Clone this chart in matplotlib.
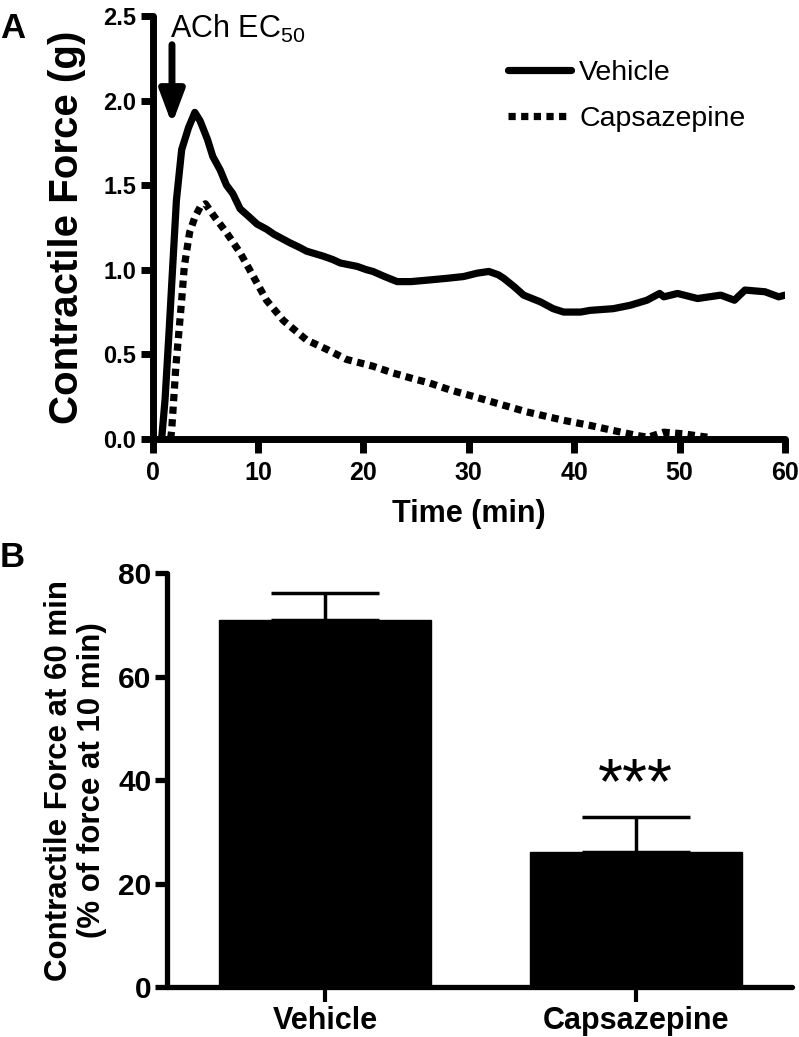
import matplotlib
matplotlib.use("Agg")
import matplotlib.pyplot as plt
import numpy as np

plt.rcParams['font.family'] = ['Liberation Sans', 'DejaVu Sans']
plt.rcParams['mathtext.fontset'] = 'custom'
plt.rcParams['mathtext.rm'] = 'Liberation Sans'

# ---- Panel A data: time course ----
vehicle_t = [0.85, 1.17, 1.55, 1.9, 2.25, 2.75, 3.4, 4.0, 4.5, 5.2, 5.7, 6.4, 7.0, 7.6, 8.3,
             9.2, 9.9, 10.8, 11.5, 13.0, 14.0, 14.6, 16.2, 17.1, 17.8, 19.4, 20.3, 20.9, 22.0,
             23.2, 24.5, 26.3, 28.0, 29.5, 30.8, 31.9, 32.8, 33.3, 34.3, 35.2, 36.8, 38.0,
             39.0, 40.6, 41.5, 43.7, 45.3, 46.9, 48.1, 48.5, 49.8, 51.7, 53.9, 55.2, 56.2,
             58.1, 59.4, 60.0]
vehicle_f = [0.00, 0.23, 0.63, 1.02, 1.41, 1.71, 1.84, 1.93, 1.88, 1.77, 1.67, 1.59, 1.50, 1.45, 1.36,
             1.31, 1.27, 1.24, 1.21, 1.16, 1.13, 1.11, 1.08, 1.06, 1.04, 1.02, 1.00, 0.99, 0.96,
             0.93, 0.93, 0.94, 0.95, 0.96, 0.98, 0.99, 0.97, 0.95, 0.90, 0.85, 0.81, 0.77,
             0.75, 0.75, 0.76, 0.77, 0.79, 0.82, 0.86, 0.84, 0.86, 0.83, 0.85, 0.82, 0.88,
             0.87, 0.84, 0.85]

capsazepine_t = [1.7, 1.8, 2.2, 2.75, 3.0, 3.5, 4.0, 4.5, 5.0, 5.9, 7.0, 8.3, 9.2, 10.8, 12.4,
                 14.6, 16.5, 18.4, 20.9, 22.8, 24.5, 26.3, 28.2, 30.5, 32.7, 35.5, 39.0, 41.5,
                 43.7, 46.0, 47.0, 48.5, 50.4, 51.5, 52.7]
capsazepine_f = [0.00, 0.05, 0.43, 0.82, 1.02, 1.22, 1.31, 1.37, 1.39, 1.31, 1.22, 1.10, 1.00, 0.82, 0.70,
                 0.585, 0.53, 0.47, 0.43, 0.39, 0.36, 0.33, 0.29, 0.25, 0.21, 0.16, 0.11, 0.08,
                 0.05, 0.02, 0.01, 0.04, 0.03, 0.02, 0.01]

series_labels = ['Vehicle', 'Capsazepine']
xticks_a = [0, 10, 20, 30, 40, 50, 60]
yticks_a = [0.0, 0.5, 1.0, 1.5, 2.0, 2.5]
arrow_time = 1.83

# ---- Panel B data: bar chart ----
bar_labels = ['Vehicle', 'Capsazepine']
bar_means = [70.9, 26.1]
bar_sem = [5.3, 6.8]
yticks_b = [0, 20, 40, 60, 80]
sig_label = '***'

fig = plt.figure(figsize=(7.99, 10.37), dpi=100)

# ---------------- Panel A ----------------
axA = fig.add_axes([0.1911, 0.5767, 0.7914, 0.4079])
axA.plot(vehicle_t, vehicle_f, color='black', lw=5.2, solid_joinstyle='round',
         solid_capstyle='round', label=series_labels[0], zorder=3)
axA.plot(capsazepine_t, capsazepine_f, color='black', lw=5.2, linestyle=(0, (1.0, 0.75)),
         dash_capstyle='butt', label=series_labels[1], zorder=3)
axA.set_xlim(0, 60)
axA.set_ylim(0, 2.5)
axA.set_xticks(xticks_a)
axA.set_yticks(yticks_a)
axA.set_yticklabels([f'{v:.1f}' for v in yticks_a])
for s in ['top', 'right']:
    axA.spines[s].set_visible(False)
for s in ['left', 'bottom']:
    axA.spines[s].set_linewidth(5)
    axA.spines[s].set_capstyle('round')
axA.tick_params(axis='y', direction='out', length=9, width=5, pad=3,
                labelsize=17)
axA.tick_params(axis='x', direction='out', length=10, width=5, pad=6,
                labelsize=18)
for lab in axA.get_xticklabels() + axA.get_yticklabels():
    lab.set_fontweight('bold')
axA.set_xlabel('Time (min)', fontsize=22, fontweight='bold', labelpad=10)
axA.set_ylabel('Contractile Force (g)', fontsize=29, fontweight='bold', labelpad=12)

leg = axA.legend(loc='upper left', bbox_to_anchor=(0.562, 0.895), frameon=False,
                 fontsize=20.5, handlelength=2.2, handletextpad=0.3, labelspacing=0.7,
                 borderpad=0, borderaxespad=0)

axA.annotate('', xy=(arrow_time, 1.86), xytext=(arrow_time, 2.33),
             arrowprops=dict(arrowstyle='-|>,head_length=2.0,head_width=0.75',
                             color='black', lw=5, shrinkA=0, shrinkB=0))
axA.text(1.65, 2.37, r'ACh EC$_{\mathregular{50}}$', fontsize=22, ha='left', va='baseline')

fig.text(0.0, 0.988, 'A', fontsize=25, fontweight='bold', ha='left', va='top')

# ---------------- Panel B ----------------
axB = fig.add_axes([0.209, 0.0482, 0.7822, 0.3992])
xpos = np.arange(len(bar_labels))
axB.bar(xpos, bar_means, width=0.68, color='black', edgecolor='black', zorder=2)
axB.errorbar(xpos, bar_means, yerr=[np.zeros(len(bar_sem)), bar_sem], fmt='none',
             ecolor='black', elinewidth=2.5, capsize=39, capthick=2.5, zorder=3)
axB.set_xlim(-0.508, 1.502)
axB.set_ylim(0, 80)
axB.set_xticks(xpos)
axB.set_xticklabels(bar_labels)
axB.set_yticks(yticks_b)
for s in ['top', 'right']:
    axB.spines[s].set_visible(False)
for s in ['left', 'bottom']:
    axB.spines[s].set_linewidth(3.8)
    axB.spines[s].set_capstyle('round')
axB.tick_params(axis='y', direction='out', length=9, width=3.8, pad=2, labelsize=21.5)
axB.tick_params(axis='x', direction='out', length=11, width=3, pad=3, labelsize=22)
for lab in axB.get_xticklabels() + axB.get_yticklabels():
    lab.set_fontweight('bold')
axB.set_ylabel('Contractile Force at 60 min\n(% of force at 10 min)', fontsize=22.5,
               fontweight='bold', labelpad=8, linespacing=1.12)
axB.text(xpos[1], bar_means[1] + bar_sem[1] + 6.0, sig_label, fontsize=46,
         ha='center', va='center')

fig.text(0.0, 0.478, 'B', fontsize=25, fontweight='bold', ha='left', va='top')

fig.savefig('out.png', dpi=100)
